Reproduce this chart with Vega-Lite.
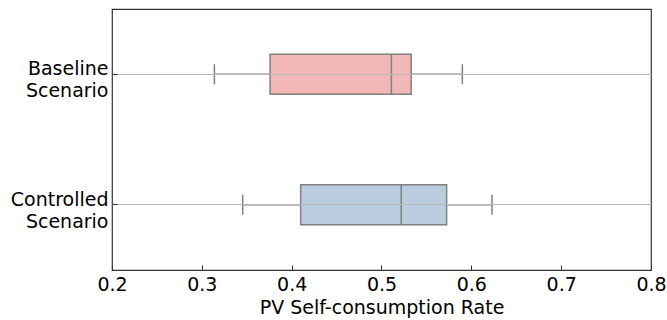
{
  "$schema": "https://vega.github.io/schema/vega-lite/v6.json",
  "width": 539,
  "height": 261,
  "autosize": {"type": "none"},
  "padding": {"left": 112, "top": 9, "right": 16, "bottom": 50},
  "config": {"view": {"stroke": "#333333", "strokeWidth": 1.2}, "font": "DejaVu Sans"},
  "data": {"values": [
    {"scenario": "Baseline Scenario", "min": 0.314, "q1": 0.376, "median": 0.511, "q3": 0.533, "max": 0.590},
    {"scenario": "Controlled Scenario", "min": 0.3455, "q1": 0.410, "median": 0.522, "q3": 0.5725, "max": 0.623}
  ]},
  "encoding": {
    "y": {
      "field": "scenario", "type": "nominal", "sort": null,
      "scale": {"paddingInner": 0, "paddingOuter": 0},
      "axis": {
        "title": null, "domain": false, "grid": true, "gridColor": "#b8b8b8", "gridWidth": 1,
        "zindex": 1, "tickSize": -5, "tickColor": "#333333", "tickWidth": 1,
        "labelExpr": "split(datum.label, ' ')", "labelFontSize": 19, "labelLineHeight": 22,
        "labelColor": "#000000", "labelPadding": 9, "labelAlign": "right", "labelOffset": -5
      }
    }
  },
  "layer": [
    {
      "mark": {"type": "rule", "color": "#808080", "strokeWidth": 1.5},
      "encoding": {
        "x": {"field": "min", "type": "quantitative", "scale": {"domain": [0.2, 0.8], "nice": false, "zero": false},
          "axis": {"title": "PV Self-consumption Rate", "titleFontSize": 19, "titleFontWeight": "normal", "titleColor": "#000000",
            "values": [0.2, 0.3, 0.4, 0.5, 0.6, 0.7, 0.8], "format": ".1f", "grid": false, "domain": false,
            "tickSize": -5, "tickColor": "#333333", "labelFontSize": 19, "labelColor": "#000000", "labelPadding": 10,
            "titlePadding": 4, "labelFlush": false}},
        "x2": {"field": "q1"}
      }
    },
    {
      "mark": {"type": "rule", "color": "#808080", "strokeWidth": 1.5},
      "encoding": {"x": {"field": "q3", "type": "quantitative"}, "x2": {"field": "max"}}
    },
    {
      "mark": {"type": "bar", "size": 40, "stroke": "#808080", "strokeWidth": 1.5, "opacity": 1},
      "encoding": {
        "x": {"field": "q1", "type": "quantitative"}, "x2": {"field": "q3"},
        "color": {"field": "scenario", "type": "nominal", "sort": null, "scale": {"range": ["#F2B8B8", "#B9CDDE"]}, "legend": null}
      }
    },
    {
      "mark": {"type": "tick", "size": 40, "thickness": 1.5, "color": "#808080", "opacity": 1},
      "encoding": {"x": {"field": "median", "type": "quantitative"}}
    },
    {
      "mark": {"type": "tick", "size": 20, "thickness": 1.5, "color": "#808080", "opacity": 1},
      "encoding": {"x": {"field": "min", "type": "quantitative"}}
    },
    {
      "mark": {"type": "tick", "size": 20, "thickness": 1.5, "color": "#808080", "opacity": 1},
      "encoding": {"x": {"field": "max", "type": "quantitative"}}
    }
  ]
}
